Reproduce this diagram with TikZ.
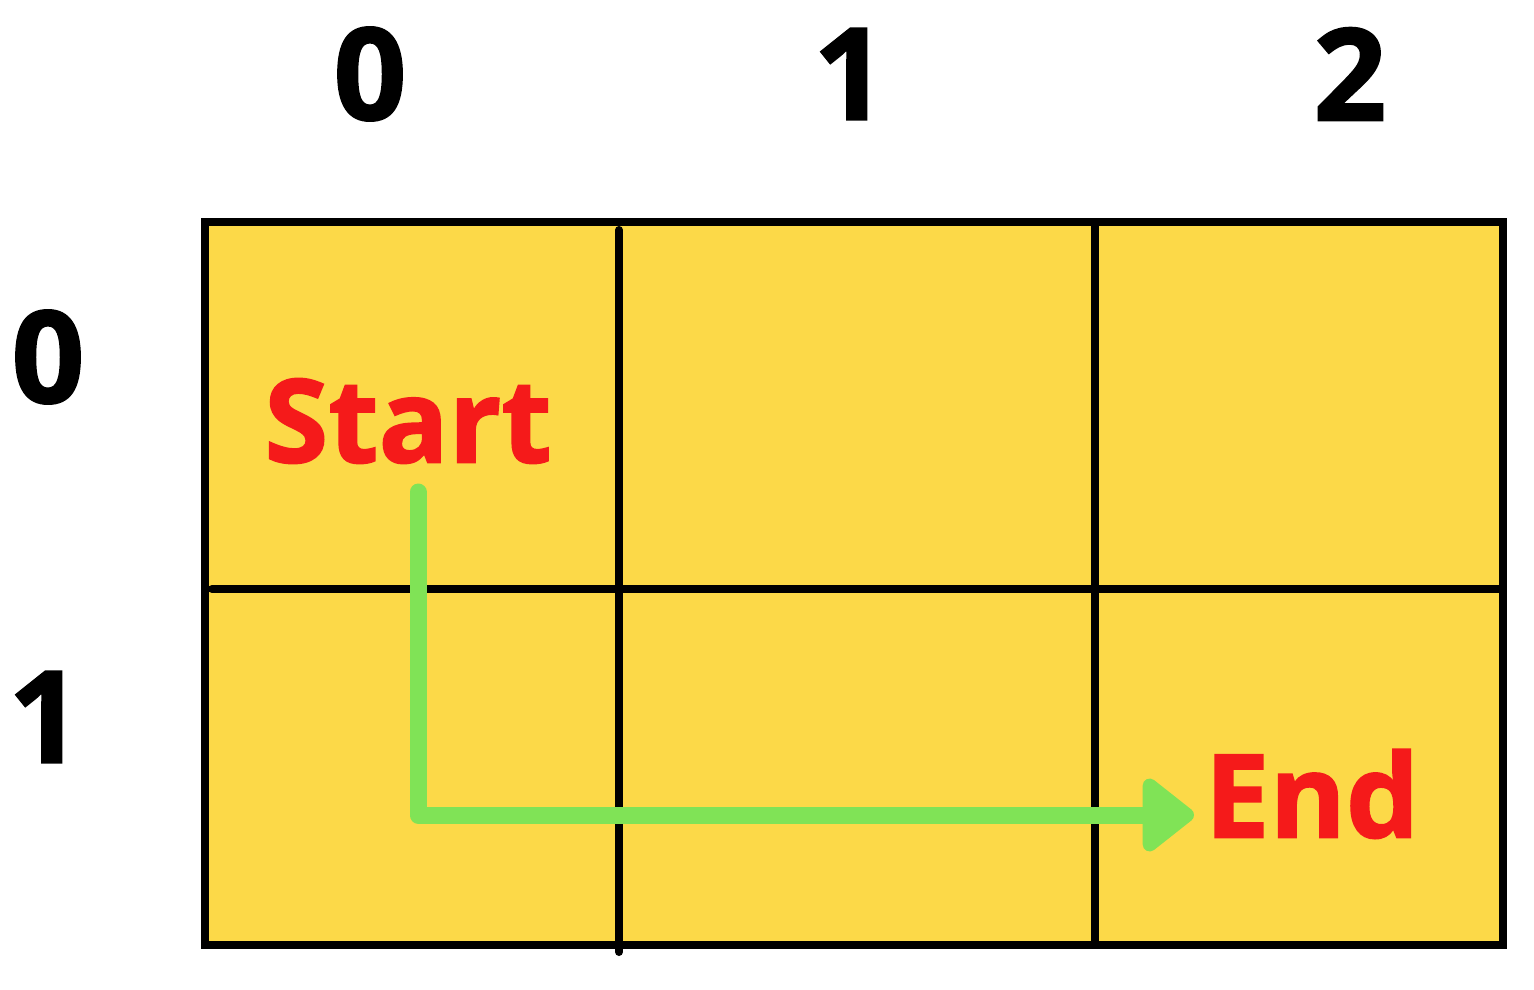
\documentclass[tikz,border=0pt]{standalone}
\usepackage{fontspec}
\setmainfont{Open Sans}[BoldFeatures={FakeBold=1.5}]
\usetikzlibrary{arrows.meta}
\definecolor{cellyellow}{RGB}{252,217,72}
\definecolor{pathgreen}{RGB}{128,227,86}
\definecolor{labelred}{RGB}{245,26,26}
\tikzset{
  gridline/.style={line width=4pt, black, line cap=round},
  idx/.style={font=\bfseries\fontsize{64}{64}\selectfont, inner sep=0pt, anchor=center},
  word/.style={font=\bfseries\fontsize{58}{58}\selectfont, text=labelred, inner sep=0pt, anchor=center},
  route/.style={line width=8.5pt, pathgreen, line cap=round, line join=round,
    -{Triangle[length=28pt,width=42pt,round]}}
}
\begin{document}
\begin{tikzpicture}[x=0.5pt,y=-0.5pt]
\useasboundingbox (0,0) rectangle (1534,989);
\fill[cellyellow] (205,222) rectangle (1503,945);
\draw[gridline] (205,222) rectangle (1503,945);
\draw[gridline] (619,230) -- (619,952);
\draw[gridline] (1095,226) -- (1095,942);
\draw[gridline] (212,589) -- (1500,589);
\node[idx] (c0) at (370,74) {0};
\node[idx] (c1) at (850,74) {1};
\node[idx] (c2) at (1350,74) {2};
\node[idx] (r0) at (48,357) {0};
\node[idx] (r1) at (45,717) {1};
\node[word] (start) at (408,421) {Start};
\node[word] (end) at (1312,794) {End};
\coordinate (s) at (418,492);
\coordinate (corner) at (418,815);
\coordinate (e) at (1194,815);
\draw[route] (s) -- (corner) -- (e);
\end{tikzpicture}
\end{document}
